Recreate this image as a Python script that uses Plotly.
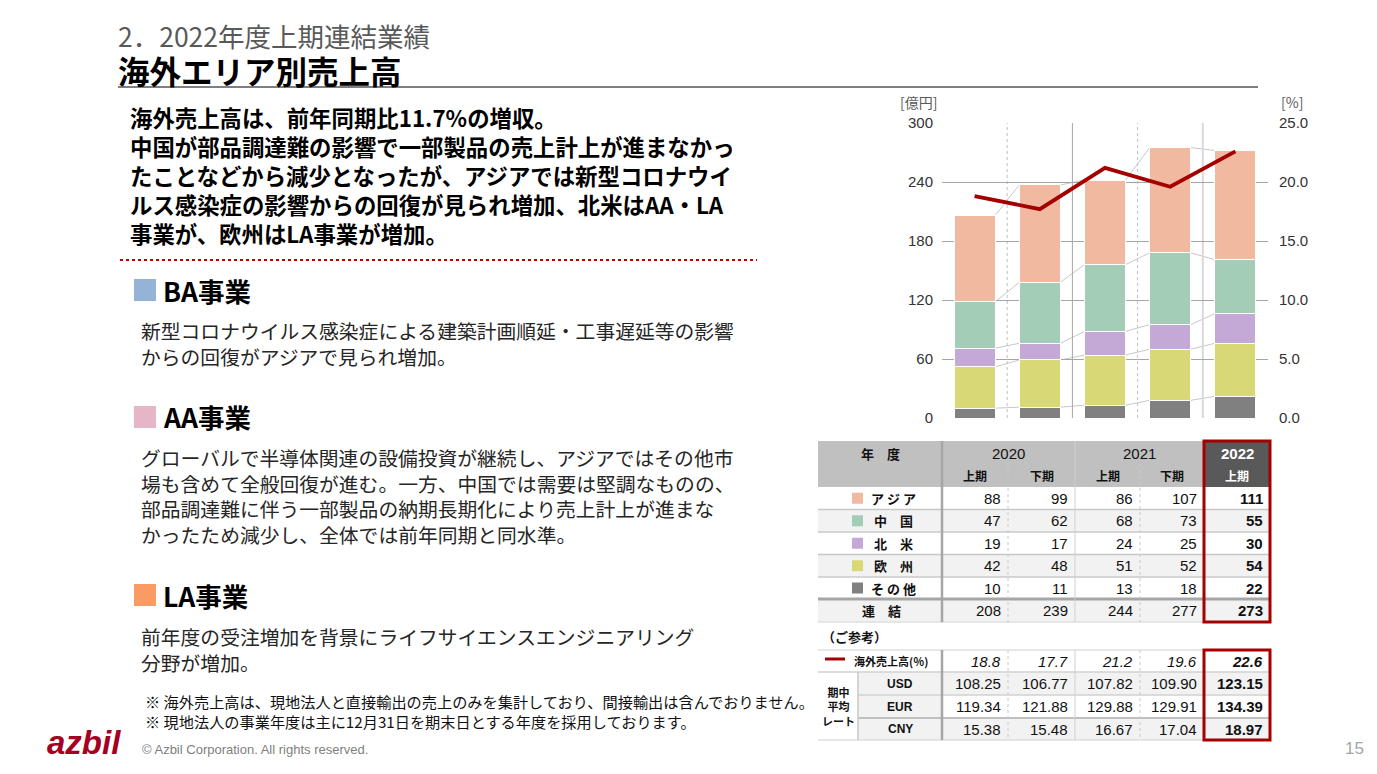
import plotly.graph_objects as go

W, H = 1377, 774

# ---------------- data ----------------
periods = ["2020上期", "2020下期", "2021上期", "2021下期", "2022上期"]
years = ["2020", "2021", "2022"]
halves = ["上期", "下期", "上期", "下期", "上期"]
region_names = ["アジア", "中国", "北米", "欧州", "その他"]
region_labels = ["ア ジ ア", "中　国", "北　米", "欧　州", "そ の 他"]
asia = [88, 99, 86, 107, 111]
china = [47, 62, 68, 73, 55]
north_america = [19, 17, 24, 25, 30]
europe = [42, 48, 51, 52, 54]
others = [10, 11, 13, 18, 22]
total = [208, 239, 244, 277, 273]
overseas_ratio = [18.8, 17.7, 21.2, 19.6, 22.6]
usd = [108.25, 106.77, 107.82, 109.90, 123.15]
eur = [119.34, 121.88, 129.88, 129.91, 134.39]
cny = [15.38, 15.48, 16.67, 17.04, 18.97]
left_ticks = [0, 60, 120, 180, 240, 300]
right_ticks = [0, 5, 10, 15, 20, 25]

# ---------------- style ----------------
colors = {"アジア": "#F2B9A1", "中国": "#A3CDB6", "北米": "#C4A9D6", "欧州": "#D8D876", "その他": "#808080"}
JP = "Noto Sans CJK JP"
NUM = "Liberation Sans"
RED = "#A50000"


def X(p):
    return p / W


def Y(p):
    return 1 - p / H


fig = go.Figure()
stack = [("その他", others), ("欧州", europe), ("北米", north_america), ("中国", china), ("アジア", asia)]
BW = 0.63
for name, vals in stack:
    fig.add_trace(go.Bar(x=periods, y=vals, name=name, width=BW,
                         marker=dict(color=colors[name], line=dict(color="white", width=1)),
                         showlegend=False, hoverinfo="skip"))
fig.add_trace(go.Scatter(x=periods, y=overseas_ratio, yaxis="y2", mode="lines",
                         line=dict(color=RED, width=3.8), showlegend=False, hoverinfo="skip"))

shapes = []
ann = []

# connector lines between bars (from data)
cum = [0] * len(periods)
for name, vals in stack:
    cum = [c + v for c, v in zip(cum, vals)]
    for i in range(len(periods) - 1):
        shapes.append(dict(type="line", xref="x", yref="y", x0=i + BW / 2, x1=i + 1 - BW / 2,
                           y0=cum[i], y1=cum[i + 1], line=dict(color="#C8C8C8", width=1), layer="below"))
# vertical separators
for i, (dash, col, wd) in enumerate([("dot", "#BFBFBF", 1), ("solid", "#A6A6A6", 1),
                                      ("dot", "#BFBFBF", 1), ("solid", "#D9D9D9", 2)]):
    shapes.append(dict(type="line", xref="x", yref="y", x0=i + 0.5, x1=i + 0.5, y0=0, y1=300,
                       line=dict(color=col, width=wd, dash=dash), layer="below"))

ann.append(dict(x=X(918), y=Y(102), text="[億円]", font=dict(family=JP, size=14, color="#595959")))
ann.append(dict(x=X(1292), y=Y(102), text="[%]", font=dict(family=JP, size=14, color="#595959")))

# ---------------- header / text blocks ----------------
ann.append(dict(x=X(116), y=Y(36), xanchor="left", text="2．2022年度上期連結業績",
                font=dict(family=JP, size=26.5, color="#595959")))
ann.append(dict(x=X(116), y=Y(70), xanchor="left", text="<b>海外エリア別売上高</b>",
                font=dict(family=JP, size=31.5, color="#000000")))
shapes.append(dict(type="line", xref="paper", yref="paper", x0=X(118), x1=X(1258), y0=Y(87), y1=Y(87),
                   line=dict(color="#000000", width=1)))

lead = ["海外売上高は、前年同期比11.7%の増収。",
        "中国が部品調達難の影響で一部製品の売上計上が進まなかっ",
        "たことなどから減少となったが、アジアでは新型コロナウイ",
        "ルス感染症の影響からの回復が見られ増加、北米はAA・LA",
        "事業が、欧州はLA事業が増加。"]
LEAD = 22.4
ann.append(dict(x=X(128), y=Y(113.5 - LEAD * 0.65), xanchor="left", yanchor="top", align="left",
                text="<br>".join("<b>" + s + "</b>" for s in lead),
                font=dict(family=JP, size=LEAD, color="#000000")))

shapes.append(dict(type="line", xref="paper", yref="paper", x0=X(120), x1=X(757), y0=Y(260), y1=Y(260),
                   line=dict(color="#C00000", width=2, dash="dot")))

sections = [
    ("BA事業", "#95B3D7", 290, ["新型コロナウイルス感染症による建築計画順延・工事遅延等の影響",
                               "からの回復がアジアで見られ増加。"], 327),
    ("AA事業", "#E6B5C6", 417, ["グローバルで半導体関連の設備投資が継続し、アジアではその他市",
                               "場も含めて全般回復が進む。一方、中国では需要は堅調なものの、",
                               "部品調達難に伴う一部製品の納期長期化により売上計上が進まな",
                               "かったため減少し、全体では前年同期と同水準。"], 454),
    ("LA事業", "#FA9B63", 595, ["前年度の受注増加を背景にライフサイエンスエンジニアリング",
                               "分野が増加。"], 633),
]
BODY = 19.8
for title, col, ty, lines, by in sections:
    shapes.append(dict(type="rect", xref="paper", yref="paper", x0=X(134), x1=X(156), y0=Y(ty - 11), y1=Y(ty + 11),
                       fillcolor=col, line=dict(width=0)))
    ann.append(dict(x=X(161), y=Y(ty), xanchor="left", text="<b>" + title + "</b>",
                    font=dict(family=JP, size=26.5, color="#000000")))
    ann.append(dict(x=X(139), y=Y(by - BODY * 0.65), xanchor="left", yanchor="top", align="left",
                    text="<br>".join(lines), font=dict(family=JP, size=BODY, color="#262626")))

notes = ["※ 海外売上高は、現地法人と直接輸出の売上のみを集計しており、間接輸出は含んでおりません。",
         "※ 現地法人の事業年度は主に12月31日を期末日とする年度を採用しております。"]
ann.append(dict(x=X(143), y=Y(688), xanchor="left", yanchor="top", align="left",
                text="<br>".join(notes), font=dict(family=JP, size=15.2, color="#111111")))

ann.append(dict(x=X(45), y=Y(742), xanchor="left", text="<b><i>azbil</i></b>",
                font=dict(family=NUM, size=33, color="#A50021")))
ann.append(dict(x=X(140), y=Y(749), xanchor="left", text="© Azbil Corporation. All rights reserved.",
                font=dict(family=NUM, size=13, color="#808080")))
ann.append(dict(x=X(1366), y=Y(748), xanchor="right", text="15",
                font=dict(family=NUM, size=17, color="#A6A6A6")))

# ---------------- table 1 ----------------
cols = [818, 942, 1008, 1075, 1140, 1204, 1270]
row_edges = [487, 509.5, 532, 554.5, 577, 599, 622]


def rect(x0, x1, y0, y1, fill, line=None):
    shapes.append(dict(type="rect", xref="paper", yref="paper", x0=X(x0), x1=X(x1), y0=Y(y0), y1=Y(y1),
                       fillcolor=fill, line=line if line else dict(width=0)))


def hline(x0, x1, y, col, wd, dash="solid"):
    shapes.append(dict(type="line", xref="paper", yref="paper", x0=X(x0), x1=X(x1), y0=Y(y), y1=Y(y),
                       line=dict(color=col, width=wd, dash=dash)))


def vline(x, y0, y1, col, wd, dash="solid"):
    shapes.append(dict(type="line", xref="paper", yref="paper", x0=X(x), x1=X(x), y0=Y(y0), y1=Y(y1),
                       line=dict(color=col, width=wd, dash=dash)))


def txt(x, y, s, size=15, family=NUM, color="#111111", anchor="center"):
    ann.append(dict(x=X(x), y=Y(y), xanchor=anchor, text=s, font=dict(family=family, size=size, color=color)))


rect(818, 1204, 441, 487, "#C0C0C0")
rect(1204, 1270, 441, 487, "#595959")
table_rows = [asia, china, north_america, europe, others, total]
for r in range(6):
    fill = "#FFFFFF" if r % 2 == 0 else "#F2F2F2"
    rect(818, 1270, row_edges[r] + 0.5, row_edges[r + 1] - 0.5, fill)
for r in range(1, 5):
    hline(818, 1270, row_edges[r], "#C8C8C8", 1.5)
hline(818, 1270, 599, "#A6A6A6", 3)
hline(818, 1270, 622, "#D0D0D0", 1)
vline(942, 441, 622, "#A6A6A6", 2.5)
vline(1075, 441, 622, "#D0D0D0", 1)
vline(1008, 464, 622, "#C8C8C8", 1, "dot")
vline(1140, 464, 622, "#C8C8C8", 1, "dot")

txt(880, 453, "<b>年　度</b>", 13, JP)
for j, yr in enumerate(years):
    x0 = cols[1 + 2 * j]
    x1 = cols[min(3 + 2 * j, 6)]
    c = "#FFFFFF" if yr == "2022" else "#111111"
    txt((x0 + x1) / 2, 453, ("<b>" + yr + "</b>") if yr == "2022" else yr, 15, NUM, c)
for j, hf in enumerate(halves):
    c = "#FFFFFF" if j == 4 else "#111111"
    txt((cols[1 + j] + cols[2 + j]) / 2, 476, "<b>" + hf + "</b>", 12, JP, c)

for r in range(6):
    cy = (row_edges[r] + row_edges[r + 1]) / 2
    if r < 5:
        rect(852, 863, cy - 5.5, cy + 5.5, colors[region_names[r]])
        txt(893, cy, "<b>" + region_labels[r] + "</b>", 13, JP)
    else:
        txt(882, cy, "<b>連　結</b>", 13, JP)
    for j in range(5):
        s = str(table_rows[r][j])
        if j == 4:
            s = "<b>" + s + "</b>"
        txt(cols[2 + j] - 5, cy, s, 15, NUM, "#111111", "right")

rect(1204, 1270, 441, 622, "rgba(0,0,0,0)", dict(color=RED, width=3))

# ---------------- table 2 ----------------
txt(820, 636, "<b>（ご参考）</b>", 13, JP, "#111111", "left")
r2 = [650, 672, 695, 718, 740]
rect(858, 1270, 672.5, 694.5, "#F2F2F2")
rect(858, 942, 695.5, 717.5, "#F2F2F2")
rect(858, 1270, 718.5, 740, "#F2F2F2")
hline(818, 1270, 650, "#D0D0D0", 1)
hline(818, 1270, 672, "#D0D0D0", 1.5)
hline(858, 1270, 695, "#D0D0D0", 1.5)
hline(858, 1270, 718, "#C0C0C0", 2)
hline(818, 1270, 740, "#D0D0D0", 1)
vline(942, 650, 740, "#A6A6A6", 2.5)
vline(858, 672, 740, "#C8C8C8", 1.5)
vline(1075, 650, 740, "#D0D0D0", 1)
vline(1008, 650, 740, "#C8C8C8", 1, "dot")
vline(1140, 650, 740, "#C8C8C8", 1, "dot")

shapes.append(dict(type="line", xref="paper", yref="paper", x0=X(825), x1=X(845), y0=Y(659), y1=Y(659),
                   line=dict(color=RED, width=3)))
txt(891, 661, "<b>海外売上高(％)</b>", 11, JP)
txt(838, 706, "<b>期中<br>平均<br>レート</b>", 11, JP)
for k, cur in enumerate(["USD", "EUR", "CNY"]):
    txt(900, (r2[k + 1] + r2[k + 2]) / 2, "<b>" + cur + "</b>", 12, NUM)
rate_rows = [usd, eur, cny]
for j in range(5):
    s = "<i>%.1f</i>" % overseas_ratio[j]
    if j == 4:
        s = "<b>" + s + "</b>"
    txt(cols[2 + j] - 5, 661, s, 15, NUM, "#111111", "right")
    for k in range(3):
        s = "%.2f" % rate_rows[k][j]
        if j == 4:
            s = "<b>" + s + "</b>"
        txt(cols[2 + j] - 5, (r2[k + 1] + r2[k + 2]) / 2, s, 15, NUM, "#111111", "right")
rect(1204, 1270, 650, 740, "rgba(0,0,0,0)", dict(color=RED, width=3))

for a in ann:
    a.setdefault("xref", "paper")
    a.setdefault("yref", "paper")
    a.setdefault("showarrow", False)
    a.setdefault("yanchor", "middle")
    a.setdefault("xanchor", "center")

fig.update_layout(
    width=W, height=H, margin=dict(l=0, r=0, t=0, b=0, pad=0, autoexpand=False),
    paper_bgcolor="white", plot_bgcolor="white",
    barmode="stack", bargap=0.37,
    xaxis=dict(domain=[X(942), X(1268)], showticklabels=False, showgrid=False, zeroline=False,
               showline=False, ticks="", automargin=False),
    yaxis=dict(domain=[Y(418), Y(123)], range=[0, 300], tickvals=left_ticks, showgrid=True,
               gridcolor="#A6A6A6", gridwidth=1, zeroline=False, showline=False, ticks="",
               automargin=False, ticklabelstandoff=8, tickfont=dict(family=NUM, size=15, color="#333333")),
    yaxis2=dict(overlaying="y", side="right", range=[0, 25], tickvals=right_ticks, tickformat=".1f",
                showgrid=False, zeroline=False, showline=False, ticks="", ticklabelstandoff=10,
                automargin=False, tickfont=dict(family=NUM, size=15, color="#333333")),
    shapes=shapes, annotations=ann,
    font=dict(family=JP),
)

fig.write_html("out.html", config={"displayModeBar": False},
               post_script="document.body.style.margin='0';document.body.style.overflow='hidden';")
